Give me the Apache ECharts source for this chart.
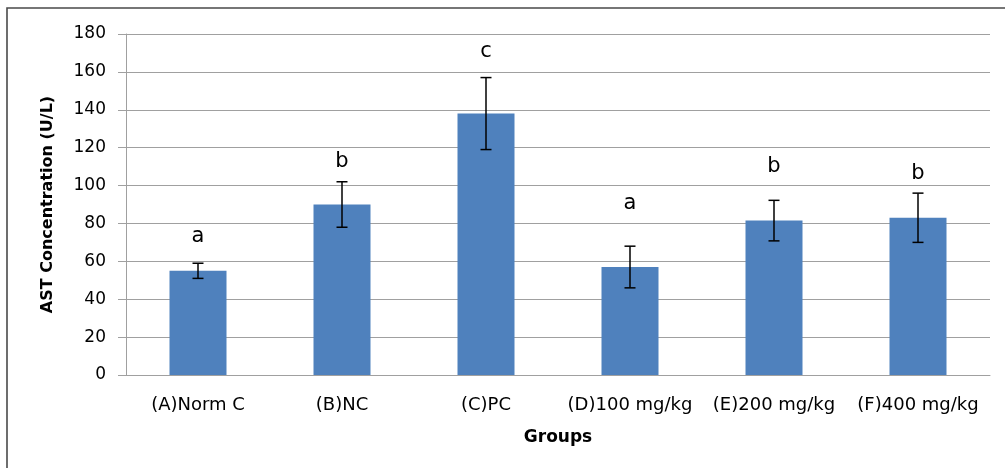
<!DOCTYPE html>
<html>
<head>
<meta charset="utf-8">
<script src="https://cdn.jsdelivr.net/npm/echarts@6/dist/echarts.min.js"></script>
<style>html,body{margin:0;padding:0;background:#fff;}#c{width:1005px;height:468px;}</style>
</head>
<body>
<div id="c"></div>
<script>
const categories = ['(A)Norm C', '(B)NC', '(C)PC', '(D)100 mg/kg', '(E)200 mg/kg', '(F)400 mg/kg'];
const means = [55, 90, 138, 57, 81.5, 83];
const errors = [4, 12, 19, 11, 10.7, 13];
const letters = ['a', 'b', 'c', 'a', 'b', 'b'];
const letterY = [73, 112.6, 170.9, 90.3, 110.2, 106.5];
const yTicks = { min: 0, max: 180, interval: 20 };

const FONT = 'DejaVu Sans';
const chart = echarts.init(document.getElementById('c'), null, { renderer: 'canvas' });

const errData = categories.map((c, i) => [i, means[i] - errors[i], means[i] + errors[i]]);
const letterData = categories.map((c, i) => ({ value: [i, letterY[i]], label: { formatter: letters[i] } }));

chart.setOption({
  animation: false,
  backgroundColor: '#fff',
  textStyle: { fontFamily: FONT },
  graphic: [{
    type: 'rect', z: 100,
    shape: { x: 7, y: 8, width: 1200, height: 700 },
    style: { fill: 'none', stroke: '#4a4a4a', lineWidth: 1.6 }
  }],
  grid: { left: 126, right: 15, top: 34, bottom: 93, containLabel: false },
  xAxis: {
    type: 'category',
    data: categories,
    name: 'Groups',
    nameLocation: 'middle',
    nameGap: 54,
    nameTextStyle: { fontFamily: FONT, fontWeight: 'bold', fontSize: 17, color: '#000' },
    axisLine: { lineStyle: { color: '#a0a0a0', width: 1 } },
    axisTick: { show: false },
    axisLabel: { color: '#000', fontFamily: FONT, fontSize: 18, margin: 21, interval: 0 }
  },
  yAxis: {
    type: 'value',
    min: yTicks.min, max: yTicks.max, interval: yTicks.interval,
    name: 'AST Concentration (U/L)',
    nameLocation: 'middle',
    nameGap: 70,
    nameRotate: 90,
    nameTextStyle: { fontFamily: FONT, fontWeight: 'bold', fontSize: 16, color: '#000' },
    axisLine: { show: true, lineStyle: { color: '#a0a0a0', width: 1 } },
    axisTick: { show: true, inside: false, length: 8, lineStyle: { color: '#a0a0a0' } },
    axisLabel: { color: '#000', fontFamily: FONT, fontSize: 17, margin: 20 },
    splitLine: { show: true, lineStyle: { color: '#a0a0a0', width: 1 } }
  },
  series: [
    {
      type: 'bar',
      data: means,
      barWidth: 57,
      itemStyle: { color: '#4f81bd' },
      z: 2
    },
    {
      type: 'custom',
      data: errData,
      z: 3,
      renderItem: function (params, api) {
        const i = api.value(0);
        const lo = api.coord([i, api.value(1)]);
        const hi = api.coord([i, api.value(2)]);
        const hw = 5.5;
        const st = { stroke: '#000', lineWidth: 1.5 };
        return {
          type: 'group',
          children: [
            { type: 'line', shape: { x1: lo[0], y1: lo[1], x2: hi[0], y2: hi[1] }, style: st },
            { type: 'line', shape: { x1: lo[0] - hw, y1: lo[1], x2: lo[0] + hw, y2: lo[1] }, style: st },
            { type: 'line', shape: { x1: hi[0] - hw, y1: hi[1], x2: hi[0] + hw, y2: hi[1] }, style: st }
          ]
        };
      }
    },
    {
      type: 'scatter',
      data: letterData,
      symbolSize: 2,
      itemStyle: { color: 'rgba(0,0,0,0)' },
      z: 4,
      label: {
        show: true,
        position: 'inside',
        color: '#000',
        opacity: 1,
        textBorderWidth: 0,
        fontFamily: FONT,
        fontSize: 21
      }
    }
  ]
});
</script>
</body>
</html>
